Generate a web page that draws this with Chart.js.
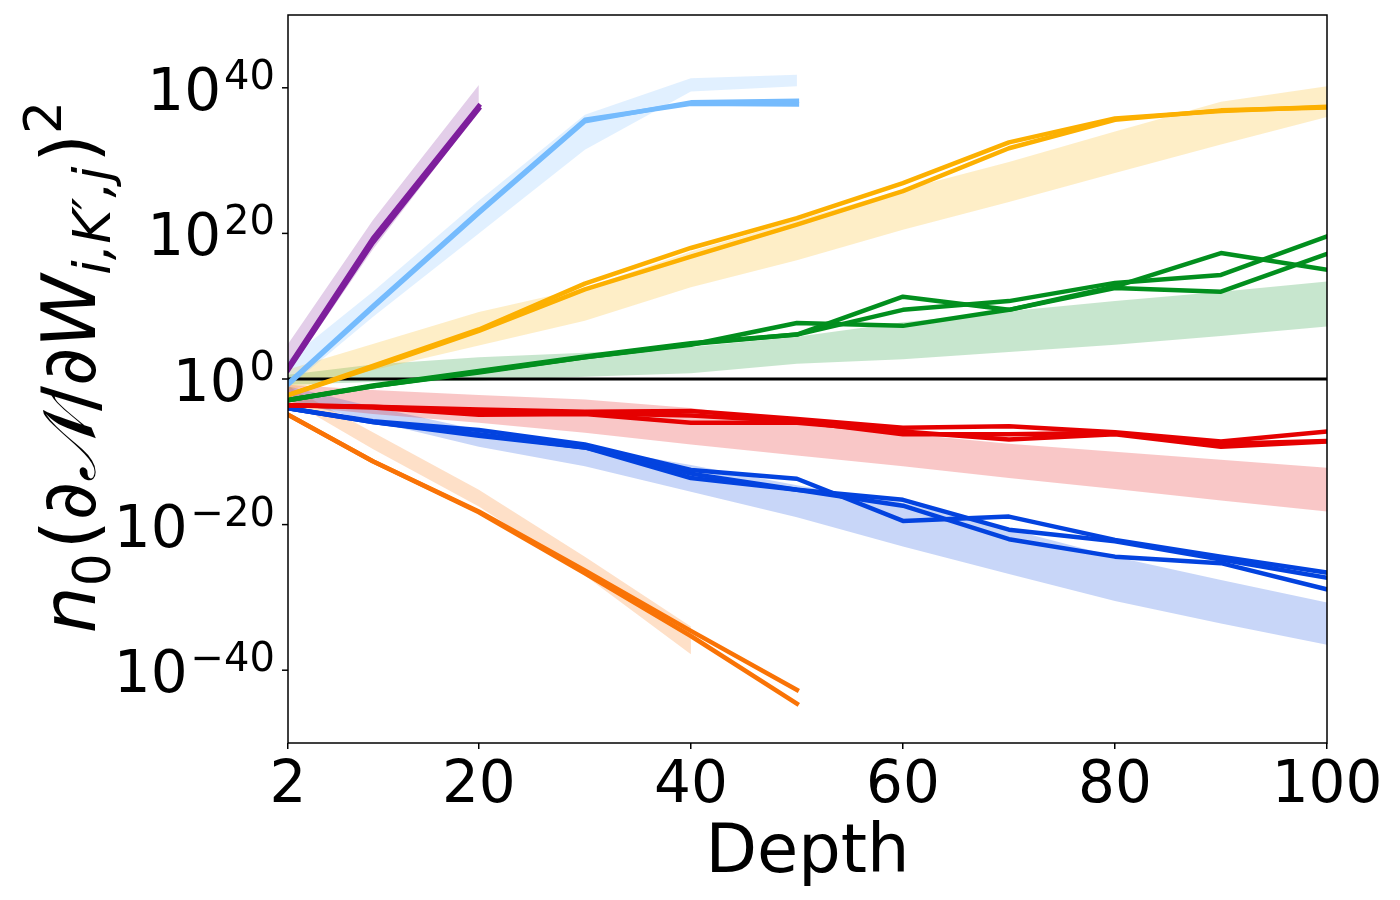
<!DOCTYPE html>
<html>
<head>
<meta charset="utf-8">
<title>Gradient magnitude vs depth</title>
<script src="https://cdn.jsdelivr.net/npm/chart.js@4.4.1/dist/chart.umd.min.js"></script>
<style>
  html, body { margin: 0; padding: 0; background: #fff; }
  #myChart { display: block; }
</style>
</head>
<body>
<canvas id="myChart" width="1400" height="900"></canvas>
<script>
// depths where the networks were measured
const depths = [2, 10, 20, 30, 40, 50, 60, 70, 80, 90, 100]
const depthsTo50 = [2, 10, 20, 30, 40, 50]
const depthsTo40 = [2, 10, 20, 30, 40]
const depthsTo20 = [2, 10, 20]
const xTicks = [2, 20, 40, 60, 80, 100]
const yTickExps = [-40, -20, 0, 20, 40]
const yTickText = ['\u221240', '\u221220', '0', '20', '40']

// all values below are log10 of n0 (dN/dW)^2
const purpleRunA = [1.6, 19.3, 37.5]
const purpleRunB = [1.2, 18.7, 37.1]
const purpleBandLo = [0.8, 17.8, 36.8]
const purpleBandHi = [4.8, 21.8, 40.4]

const skyRunA = [-0.8, 9.8, 22.8, 35.4, 38.0, 38.2]
const skyRunB = [-0.6, 10.0, 23.0, 35.6, 37.8, 37.7]
const skyBandLo = [-1.2, 8.5, 20.0, 31.5, 39.5, 40.2]
const skyBandHi = [2.6, 12.0, 24.5, 36.3, 41.3, 41.8]

const amberRunA = [-2.2, 1.8, 6.8, 13.1, 18.0, 22.1, 26.9, 32.5, 35.8, 36.8, 37.4]
const amberRunB = [-2.2, 1.6, 6.6, 12.3, 16.8, 21.2, 25.8, 31.7, 35.6, 36.9, 37.3]
const amberBandLo = [-1.5, 1.2, 4.6, 8.0, 12.6, 16.3, 20.5, 24.3, 28.3, 32.2, 36.0]
const amberBandHi = [1.3, 4.8, 9.2, 12.5, 17.5, 21.8, 26.0, 29.8, 34.0, 38.1, 40.2]

const greenRunA = [-2.9, -0.9, 1.1, 3.1, 4.9, 6.1, 11.3, 9.5, 12.7, 17.3, 15.0]
const greenRunB = [-2.9, -1.0, 1.0, 3.0, 4.8, 6.1, 9.5, 10.7, 13.2, 14.3, 19.6]
const greenRunC = [-2.9, -1.0, 0.9, 3.0, 4.7, 7.7, 7.3, 9.5, 12.5, 12.0, 17.2]
const greenBandLo = [-0.8, -0.4, -0.2, 0.3, 0.8, 2.1, 2.7, 3.7, 4.7, 5.9, 7.2]
const greenBandHi = [0.6, 2.0, 3.0, 3.6, 4.4, 5.8, 7.8, 9.3, 10.7, 12.0, 13.4]

const redRunA = [-3.6, -3.8, -4.2, -4.5, -4.4, -5.5, -6.7, -6.5, -7.3, -8.6, -7.2]
const redRunB = [-3.6, -3.9, -4.9, -4.8, -6.0, -6.0, -7.2, -8.3, -7.6, -9.3, -8.6]
const redRunC = [-3.6, -3.8, -4.5, -4.7, -5.0, -5.8, -7.6, -7.6, -7.4, -8.9, -8.5]
const redBandLo = [-3.6, -4.8, -6.0, -7.4, -9.0, -10.5, -12.0, -13.6, -15.1, -16.7, -18.2]
const redBandHi = [-0.8, -1.5, -2.2, -2.8, -4.0, -5.9, -7.5, -8.9, -10.0, -11.1, -12.2]

const blueRunA = [-4.0, -5.8, -7.0, -9.0, -12.5, -13.7, -19.5, -18.9, -22.1, -24.4, -26.6]
const blueRunB = [-4.0, -5.9, -7.6, -9.4, -13.0, -15.2, -16.6, -20.7, -22.3, -24.8, -27.3]
const blueRunC = [-4.0, -5.9, -7.8, -9.4, -13.6, -15.2, -17.4, -22.0, -24.4, -25.3, -28.9]
const blueBandLo = [-3.0, -5.8, -9.3, -12.0, -15.5, -19.0, -23.0, -26.8, -30.5, -33.6, -36.5]
const blueBandHi = [-1.0, -3.8, -7.0, -9.3, -11.8, -14.6, -17.0, -20.6, -24.4, -27.6, -30.7]

const orangeRunA = [-4.9, -11.3, -18.2, -26.3, -34.6, -42.7]
const orangeRunB = [-4.9, -11.3, -18.3, -26.7, -35.3, -44.6]
const orangeBandLo = [-2.8, -9.6, -17.5, -27.0, -37.8]
const orangeBandHi = [-1.0, -7.3, -15.2, -24.4, -34.0]

const purple = '126,30,156'
const sky = '117,187,253'
const amber = '252,176,1'
const green = '2,143,30'
const red = '229,0,0'
const blue = '3,67,223'
const orange = '249,115,6'

function toPoints(xs, logs) {
    return xs.map((x, i) => ({x: x, y: Math.pow(10, logs[i])}))
}

var datasets = []

function addBand(xs, lo, hi, rgb) {
    datasets.push({data: toPoints(xs, lo), borderWidth: 0, pointRadius: 0, fill: false, order: 3})
    datasets.push({data: toPoints(xs, hi), borderWidth: 0, pointRadius: 0, fill: '-1',
        backgroundColor: 'rgba(' + rgb + ',0.22)', order: 3})
}

function addRun(xs, logs, rgb) {
    datasets.push({data: toPoints(xs, logs), borderColor: 'rgb(' + rgb + ')', borderWidth: 4.5,
        pointRadius: 0, fill: false, borderJoinStyle: 'round', borderCapStyle: 'square', order: 1})
}

addBand(depthsTo20, purpleBandLo, purpleBandHi, purple)
addBand(depthsTo50, skyBandLo, skyBandHi, sky)
addBand(depths, amberBandLo, amberBandHi, amber)
addBand(depths, greenBandLo, greenBandHi, green)
addBand(depths, redBandLo, redBandHi, red)
addBand(depths, blueBandLo, blueBandHi, blue)
addBand(depthsTo40, orangeBandLo, orangeBandHi, orange)

// reference line at 10^0
datasets.push({data: [{x: 2, y: 1}, {x: 100, y: 1}], borderColor: '#000', borderWidth: 3,
    pointRadius: 0, fill: false, order: 2})

addRun(depthsTo20, purpleRunA, purple)
addRun(depthsTo20, purpleRunB, purple)
addRun(depthsTo50, skyRunA, sky)
addRun(depthsTo50, skyRunB, sky)
addRun(depths, amberRunA, amber)
addRun(depths, amberRunB, amber)
addRun(depths, greenRunA, green)
addRun(depths, greenRunB, green)
addRun(depths, greenRunC, green)
addRun(depths, redRunA, red)
addRun(depths, redRunB, red)
addRun(depths, redRunC, red)
addRun(depths, blueRunA, blue)
addRun(depths, blueRunB, blue)
addRun(depths, blueRunC, blue)
addRun(depthsTo50, orangeRunA, orange)
addRun(depthsTo50, orangeRunB, orange)

const FONT = '"DejaVu Sans", "Noto Sans", sans-serif'

// frame, log tick labels with superscripts and the axis titles
const decorations = {
    id: 'decorations',
    afterDraw(chart) {
        const ctx = chart.ctx
        const {left, right, top, bottom} = chart.chartArea
        const y = chart.scales.y
        ctx.save()
        ctx.strokeStyle = '#000'
        ctx.lineWidth = 1.5
        ctx.strokeRect(left, top, right - left, bottom - top)

        ctx.fillStyle = '#000'
        yTickExps.forEach((e, i) => {
            const yp = y.getPixelForValue(Math.pow(10, e))
            ctx.beginPath()
            ctx.moveTo(left - 6, yp)
            ctx.lineTo(left, yp)
            ctx.stroke()
            ctx.textAlign = 'right'
            ctx.textBaseline = 'alphabetic'
            ctx.font = '40px ' + FONT
            const expW = ctx.measureText(yTickText[i]).width
            ctx.fillText(yTickText[i], left - 13, yp + 1)
            ctx.font = '58px ' + FONT
            ctx.fillText('10', left - 13 - expW - 3, yp + 22)
        })

        ctx.textAlign = 'center'
        ctx.font = '67px ' + FONT
        ctx.fillText('Depth', (left + right) / 2, 872)

        // y label, rotated, built from pieces so sub/superscripts sit right
        const big = 74, small = 52
        const parts = [
            {t: 'n', f: 'italic ' + big + 'px ' + FONT, dy: 0},
            {t: '0', f: small + 'px ' + FONT, dy: 15, gap: 4},
            {t: '(\u2202', f: big + 'px ' + FONT, dy: 0},
            {t: '\u{1D4A9}', f: 'italic ' + big + 'px ' + FONT, dy: 0},
            {t: '/\u2202', f: big + 'px ' + FONT, dy: 0},
            {t: 'W', f: 'italic ' + big + 'px ' + FONT, dy: 0},
            {t: 'i,K\u2032,j', f: 'italic ' + small + 'px ' + FONT, dy: 15, gap: 4},
            {t: ')', f: big + 'px ' + FONT, dy: 0},
            {t: '2', f: small + 'px ' + FONT, dy: -34}
        ]
        let total = 0
        parts.forEach(p => {
            ctx.font = p.f
            p.w = ctx.measureText(p.t).width + (p.gap || 0)
            total += p.w
        })
        ctx.translate(95, 367)
        ctx.rotate(-Math.PI / 2)
        ctx.textAlign = 'left'
        let x = -total / 2
        parts.forEach(p => {
            ctx.font = p.f
            ctx.fillText(p.t, x, p.dy)
            x += p.w
        })
        ctx.restore()
    }
}

const config = {
    type: 'line',
    data: {datasets: datasets},
    options: {
        responsive: false,
        animation: false,
        devicePixelRatio: 1,
        layout: {padding: {left: 0, right: 73, top: 15, bottom: 0}},
        plugins: {legend: {display: false}, tooltip: {enabled: false}},
        scales: {
            x: {
                type: 'linear',
                min: 2,
                max: 100,
                afterBuildTicks: s => { s.ticks = xTicks.map(v => ({value: v})) },
                afterFit: s => { s.height = 157 },
                grid: {drawOnChartArea: false, drawTicks: true, tickLength: 6, color: '#000', lineWidth: 1.5},
                border: {display: false},
                ticks: {font: {family: FONT, size: 58}, color: '#000', padding: 3, maxRotation: 0, autoSkip: false}
            },
            y: {
                type: 'logarithmic',
                min: 1e-50,
                max: 1e50,
                afterFit: s => { s.width = 288 },
                grid: {display: false},
                border: {display: false},
                ticks: {display: false}
            }
        }
    },
    plugins: [decorations]
}

this.myChart = new Chart(document.getElementById('myChart'), config)
</script>
</body>
</html>
